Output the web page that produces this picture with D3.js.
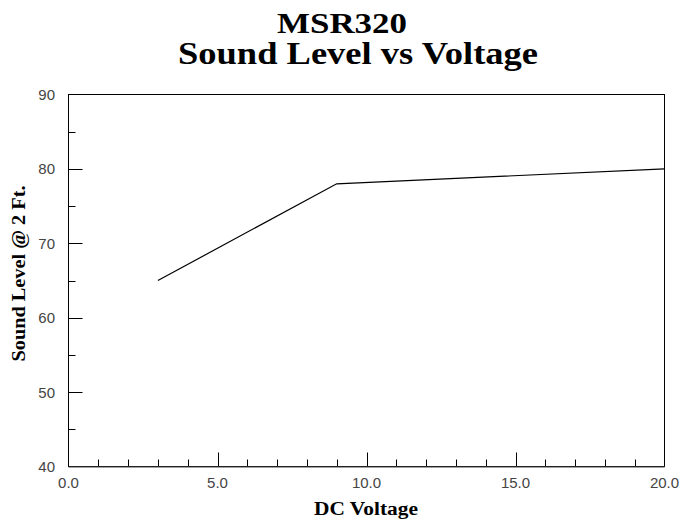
<!DOCTYPE html>
<html>
<head>
<meta charset="utf-8">
<script src="https://cdn.jsdelivr.net/npm/d3@7"></script>
<style>
  body { margin: 0; background: #fff; }
  svg { display: block; }
</style>
</head>
<body>
<svg id="chart" width="679" height="523"></svg>
<script>
const voltage = [3, 9, 20];
const soundLevel = [65, 78, 80];
const xTickLabels = ['0.0', '5.0', '10.0', '15.0', '20.0'];
const yTickLabels = ['40', '50', '60', '70', '80', '90'];
const titleLines = ['MSR320', 'Sound Level vs Voltage'];
const xTitle = 'DC Voltage';
const yTitle = 'Sound Level @ 2 Ft.';

const width = 679;
const height = 523;
const padding = { top: 94.5, right: 14.5, bottom: 56.5, left: 68.5 };

const svg = d3.select('#chart');

const x = d3.scaleLinear().domain([0, 20]).range([padding.left, width - padding.right]);
const y = d3.scaleLinear().domain([40, 90]).range([height - padding.bottom, padding.top]);

const serif = '"Liberation Serif", "Times New Roman", serif';
const sans = '"Liberation Sans", Arial, sans-serif';

// title
const titles = [
  { text: titleLines[0], cx: 342, base: 33, size: 30, len: 130 },
  { text: titleLines[1], cx: 358, base: 63.5, size: 32, len: 360 },
];
svg.selectAll('text.title')
  .data(titles)
  .enter()
  .append('text')
  .attr('class', 'title')
  .attr('x', d => d.cx)
  .attr('y', d => d.base)
  .attr('text-anchor', 'middle')
  .attr('font-family', serif)
  .attr('font-weight', 'bold')
  .attr('font-size', d => d.size)
  .attr('textLength', d => d.len)
  .attr('lengthAdjust', 'spacingAndGlyphs')
  .text(d => d.text);

// ticks, inward
const xMinor = d3.range(1, 20).filter(v => v % 5 !== 0);
const xMajor = [5, 10, 15];
const yMinor = d3.range(45, 90, 10);
const yMajor = [50, 60, 70, 80];

const ticks = svg.append('g').attr('stroke', '#000').attr('stroke-width', 1);

ticks.selectAll('line.xt')
  .data(xMinor.map(v => ({ v, len: 7 })).concat(xMajor.map(v => ({ v, len: 14 }))))
  .enter()
  .append('line')
  .attr('x1', d => Math.round(x(d.v)) + 0.5)
  .attr('x2', d => Math.round(x(d.v)) + 0.5)
  .attr('y1', y(40))
  .attr('y2', d => y(40) - d.len);

ticks.selectAll('line.yt')
  .data(yMinor.map(v => ({ v, len: 7 })).concat(yMajor.map(v => ({ v, len: 14 }))))
  .enter()
  .append('line')
  .attr('y1', d => Math.round(y(d.v)) + 0.5)
  .attr('y2', d => Math.round(y(d.v)) + 0.5)
  .attr('x1', x(0))
  .attr('x2', d => x(0) + d.len);

// frame
svg.append('rect')
  .attr('x', x(0))
  .attr('y', y(90))
  .attr('width', x(20) - x(0))
  .attr('height', y(40) - y(90))
  .attr('fill', 'none')
  .attr('stroke', '#000')
  .attr('stroke-width', 1);

svg.append('line')
  .attr('x1', x(0))
  .attr('x2', x(20))
  .attr('y1', y(40) + 0.5)
  .attr('y2', y(40) + 0.5)
  .attr('stroke', '#444')
  .attr('stroke-width', 1);

// tick labels
svg.selectAll('text.xl')
  .data(xTickLabels)
  .enter()
  .append('text')
  .attr('x', d => x(+d))
  .attr('y', 488)
  .attr('text-anchor', 'middle')
  .attr('font-family', sans)
  .attr('font-size', 15)
  .attr('fill', '#444')
  .text(d => d);

svg.selectAll('text.yl')
  .data(yTickLabels)
  .enter()
  .append('text')
  .attr('x', 55)
  .attr('y', d => y(+d) + 5.5)
  .attr('text-anchor', 'end')
  .attr('font-family', sans)
  .attr('font-size', 15)
  .attr('fill', '#444')
  .text(d => d);

// axis titles
svg.append('text')
  .attr('x', 366)
  .attr('y', 515)
  .attr('text-anchor', 'middle')
  .attr('font-family', serif)
  .attr('font-weight', 'bold')
  .attr('font-size', 18)
  .attr('textLength', 104)
  .attr('lengthAdjust', 'spacingAndGlyphs')
  .text(xTitle);

svg.append('text')
  .attr('transform', 'translate(25, 273.5) rotate(-90)')
  .attr('text-anchor', 'middle')
  .attr('font-family', serif)
  .attr('font-weight', 'bold')
  .attr('font-size', 18)
  .attr('textLength', 176)
  .attr('lengthAdjust', 'spacingAndGlyphs')
  .text(yTitle);

// data line
const line = d3.line()
  .x(d => x(d[0]))
  .y(d => y(d[1]));

svg.append('path')
  .attr('d', line(voltage.map((v, i) => [v, soundLevel[i]])))
  .attr('fill', 'none')
  .attr('stroke', '#000')
  .attr('stroke-width', 1.2);
</script>
</body>
</html>
